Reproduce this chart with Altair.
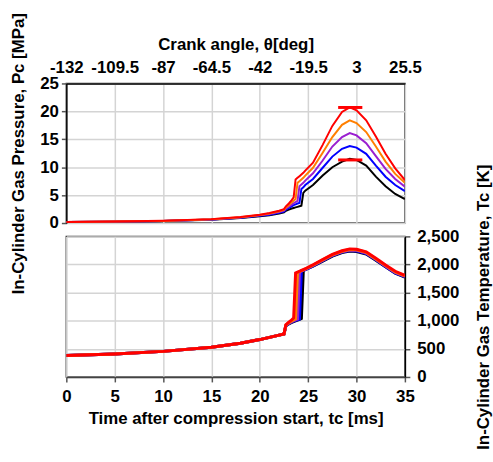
import altair as alt
import pandas as pd

# ---- data ----
time_ms = [0, 5, 10, 15, 18, 20, 21, 22, 22.5, 22.7, 23.0, 23.3, 23.5, 23.7, 23.9,
           24.1, 24.3, 24.5, 24.7, 25.5, 26.5, 27.5, 28.5, 29.3, 30.0, 31.0, 32.0, 33.0, 34.0, 35.0]

case_names = ["case 1", "case 2", "case 3", "case 4", "case 5"]
case_colors = ["#000000", "#0000ff", "#9a1fd0", "#ff7f00", "#ff0000"]

# In-cylinder pressure [MPa]
p_case1 = [0.2, 0.25, 0.35, 0.6, 0.9, 1.2, 1.4, 1.7, 1.9, 2.2, 2.4, 2.6, 2.7, 2.8, 2.9,
           3.0, 3.1, 5.4, 5.8, 6.8, 8.5, 10.0, 11.0, 11.5, 11.3, 10.3, 8.3, 6.6, 5.2, 4.3]
p_case2 = [0.2, 0.25, 0.36, 0.62, 0.95, 1.3, 1.5, 1.82, 2.05, 2.4, 2.7, 3.0, 3.2, 3.35, 3.5,
           3.6, 6.1, 6.4, 6.8, 7.9, 9.9, 11.9, 13.3, 13.8, 13.5, 12.4, 10.3, 8.3, 6.8, 5.7]
p_case3 = [0.2, 0.26, 0.37, 0.65, 1.0, 1.38, 1.6, 1.95, 2.2, 2.6, 2.95, 3.3, 3.55, 3.75, 3.95,
           6.6, 6.9, 7.2, 7.6, 8.9, 11.2, 13.7, 15.4, 16.1, 15.7, 14.3, 12.0, 9.7, 7.9, 6.5]
p_case4 = [0.2, 0.26, 0.38, 0.67, 1.05, 1.45, 1.7, 2.1, 2.35, 2.8, 3.2, 3.7, 4.0, 4.3, 7.2,
           7.5, 7.8, 8.1, 8.5, 9.9, 12.6, 15.4, 17.6, 18.4, 17.9, 16.3, 13.7, 11.0, 8.8, 7.2]
p_case5 = [0.2, 0.27, 0.4, 0.7, 1.1, 1.5, 1.8, 2.2, 2.5, 3.0, 3.5, 4.1, 4.6, 7.8, 8.1,
           8.4, 8.7, 9.0, 9.4, 10.8, 14.0, 17.4, 19.9, 20.7, 20.2, 18.4, 15.5, 12.4, 9.8, 7.7]

# In-cylinder gas temperature [K]
t_case1 = [380, 410, 455, 530, 600, 665, 705, 745, 765, 910, 945, 970, 985, 998, 1010,
           1022, 1040, 1895, 1908, 1970, 2060, 2150, 2212, 2238, 2232, 2185, 2075, 1958, 1845, 1778]
t_case2 = [380, 410, 455, 530, 600, 665, 705, 745, 765, 915, 952, 978, 992, 1005, 1018,
           1030, 1880, 1895, 1910, 1976, 2068, 2158, 2220, 2248, 2242, 2195, 2084, 1965, 1850, 1784]
t_case3 = [380, 410, 455, 530, 600, 665, 705, 745, 765, 920, 958, 985, 1000, 1015, 1030,
           1870, 1885, 1900, 1915, 1982, 2075, 2165, 2228, 2258, 2252, 2205, 2092, 1972, 1858, 1790]
t_case4 = [380, 410, 455, 530, 600, 665, 705, 745, 765, 925, 965, 995, 1015, 1035, 1860,
           1875, 1890, 1905, 1920, 1988, 2082, 2172, 2236, 2268, 2262, 2215, 2100, 1980, 1868, 1798]
t_case5 = [380, 410, 455, 530, 600, 665, 705, 745, 765, 930, 975, 1015, 1050, 1850, 1865,
           1880, 1895, 1910, 1925, 1995, 2090, 2180, 2245, 2278, 2272, 2225, 2110, 1990, 1880, 1808]

# red range markers on the pressure peaks
marker_pressure = [20.7, 11.3]
marker_t_start = [28.1, 28.1]
marker_t_end = [30.6, 30.6]

# axis ticks / labels
time_ticks = [0, 5, 10, 15, 20, 25, 30, 35]
crank_labels = ["-132", "-109.5", "-87", "-64.5", "-42", "-19.5", "3", "25.5"]
pressure_ticks = [0, 5, 10, 15, 20, 25]
temp_ticks = [0, 500, 1000, 1500, 2000, 2500]

# ---- tables ----
p_all = [p_case1, p_case2, p_case3, p_case4, p_case5]
t_all = [t_case1, t_case2, t_case3, t_case4, t_case5]
rows = []
for k, name in enumerate(case_names):
    for i, tm in enumerate(time_ms):
        rows.append({"t": tm, "case": name, "order": k, "P": p_all[k][i], "T": t_all[k][i]})
df = pd.DataFrame(rows)
markers = pd.DataFrame({"t": marker_t_start, "t1": marker_t_end, "P": marker_pressure})

crank_expr = " : ".join(
    f"datum.value == {v} ? '{lab}'" for v, lab in zip(time_ticks, crank_labels)
) + " : ''"

FONT = "Liberation Sans"
color = alt.Color("case:N", scale=alt.Scale(domain=case_names, range=case_colors), legend=None)

common_axis = dict(labelOverlap=False, labelFlush=False, labelBound=False)

# ---- top panel: pressure ----
x_top = alt.X("t:Q", scale=alt.Scale(domain=[0, 35], nice=False, zero=False),
              axis=alt.Axis(orient="top", values=time_ticks, labelExpr=crank_expr,
                            title="Crank angle, θ[deg]", ticks=False, labelPadding=7,
                            titlePadding=5, domainColor="#000000", domainWidth=1.5,
                            **common_axis))
y_top = alt.Y("P:Q", scale=alt.Scale(domain=[0, 25], nice=False),
              axis=alt.Axis(values=pressure_ticks, title="In-Cylinder Gas  Pressure, Pc [MPa]",
                            tickSize=5, labelPadding=3, titlePadding=12,
                            domainColor="#000000", domainWidth=1.5, **common_axis))

p_lines = alt.Chart(df).mark_line(strokeWidth=2, clip=True).encode(
    x=x_top, y=y_top, color=color, detail="case:N")
p_marks = alt.Chart(markers).mark_rule(color="#ff0000", strokeWidth=3).encode(
    x=x_top, x2="t1:Q", y=y_top)
top = alt.layer(p_lines, p_marks).properties(width=342, height=141)

# ---- bottom panel: temperature ----
x_bot = alt.X("t:Q", scale=alt.Scale(domain=[0, 35], nice=False, zero=False),
              axis=alt.Axis(orient="bottom", values=time_ticks, format="d",
                            title="Time after compression start, tc [ms]",
                            tickSize=5, labelPadding=7, titlePadding=6,
                            domainColor="#444444", domainWidth=1.5, **common_axis))
y_bot = alt.Y("T:Q", scale=alt.Scale(domain=[0, 2500], nice=False),
              axis=alt.Axis(orient="right", values=temp_ticks, format=",d",
                            title="In-Cylinder Gas Temperature, Tc [K]",
                            titleAngle=270, titleBaseline="top",
                            tickSize=5, labelPadding=7, titlePadding=17,
                            domainColor="#000000", domainWidth=1.5, **common_axis))
bottom = alt.Chart(df).mark_line(strokeWidth=3, clip=True).encode(
    x=x_bot, y=y_bot, color=color, detail="case:N").properties(width=342, height=142)

chart = alt.vconcat(top, bottom, spacing=13.5, bounds="flush").resolve_scale(
    x="independent", y="independent"
).resolve_axis(x="independent", y="independent").properties(
    padding={"left": 9, "top": 7, "right": 0, "bottom": 0}
).configure_axis(
    labelFont=FONT, labelFontSize=17, labelFontWeight="bold", labelColor="#000000",
    titleFont=FONT, titleFontSize=17, titleFontWeight="bold", titleColor="#000000",
    gridColor="#d4d4d4", gridWidth=1.5, tickColor="#555555", tickWidth=1.5,
).configure_view(stroke="#333333", strokeWidth=1.5)

chart.save("out.html", embed_options={"renderer": "svg", "actions": False})
